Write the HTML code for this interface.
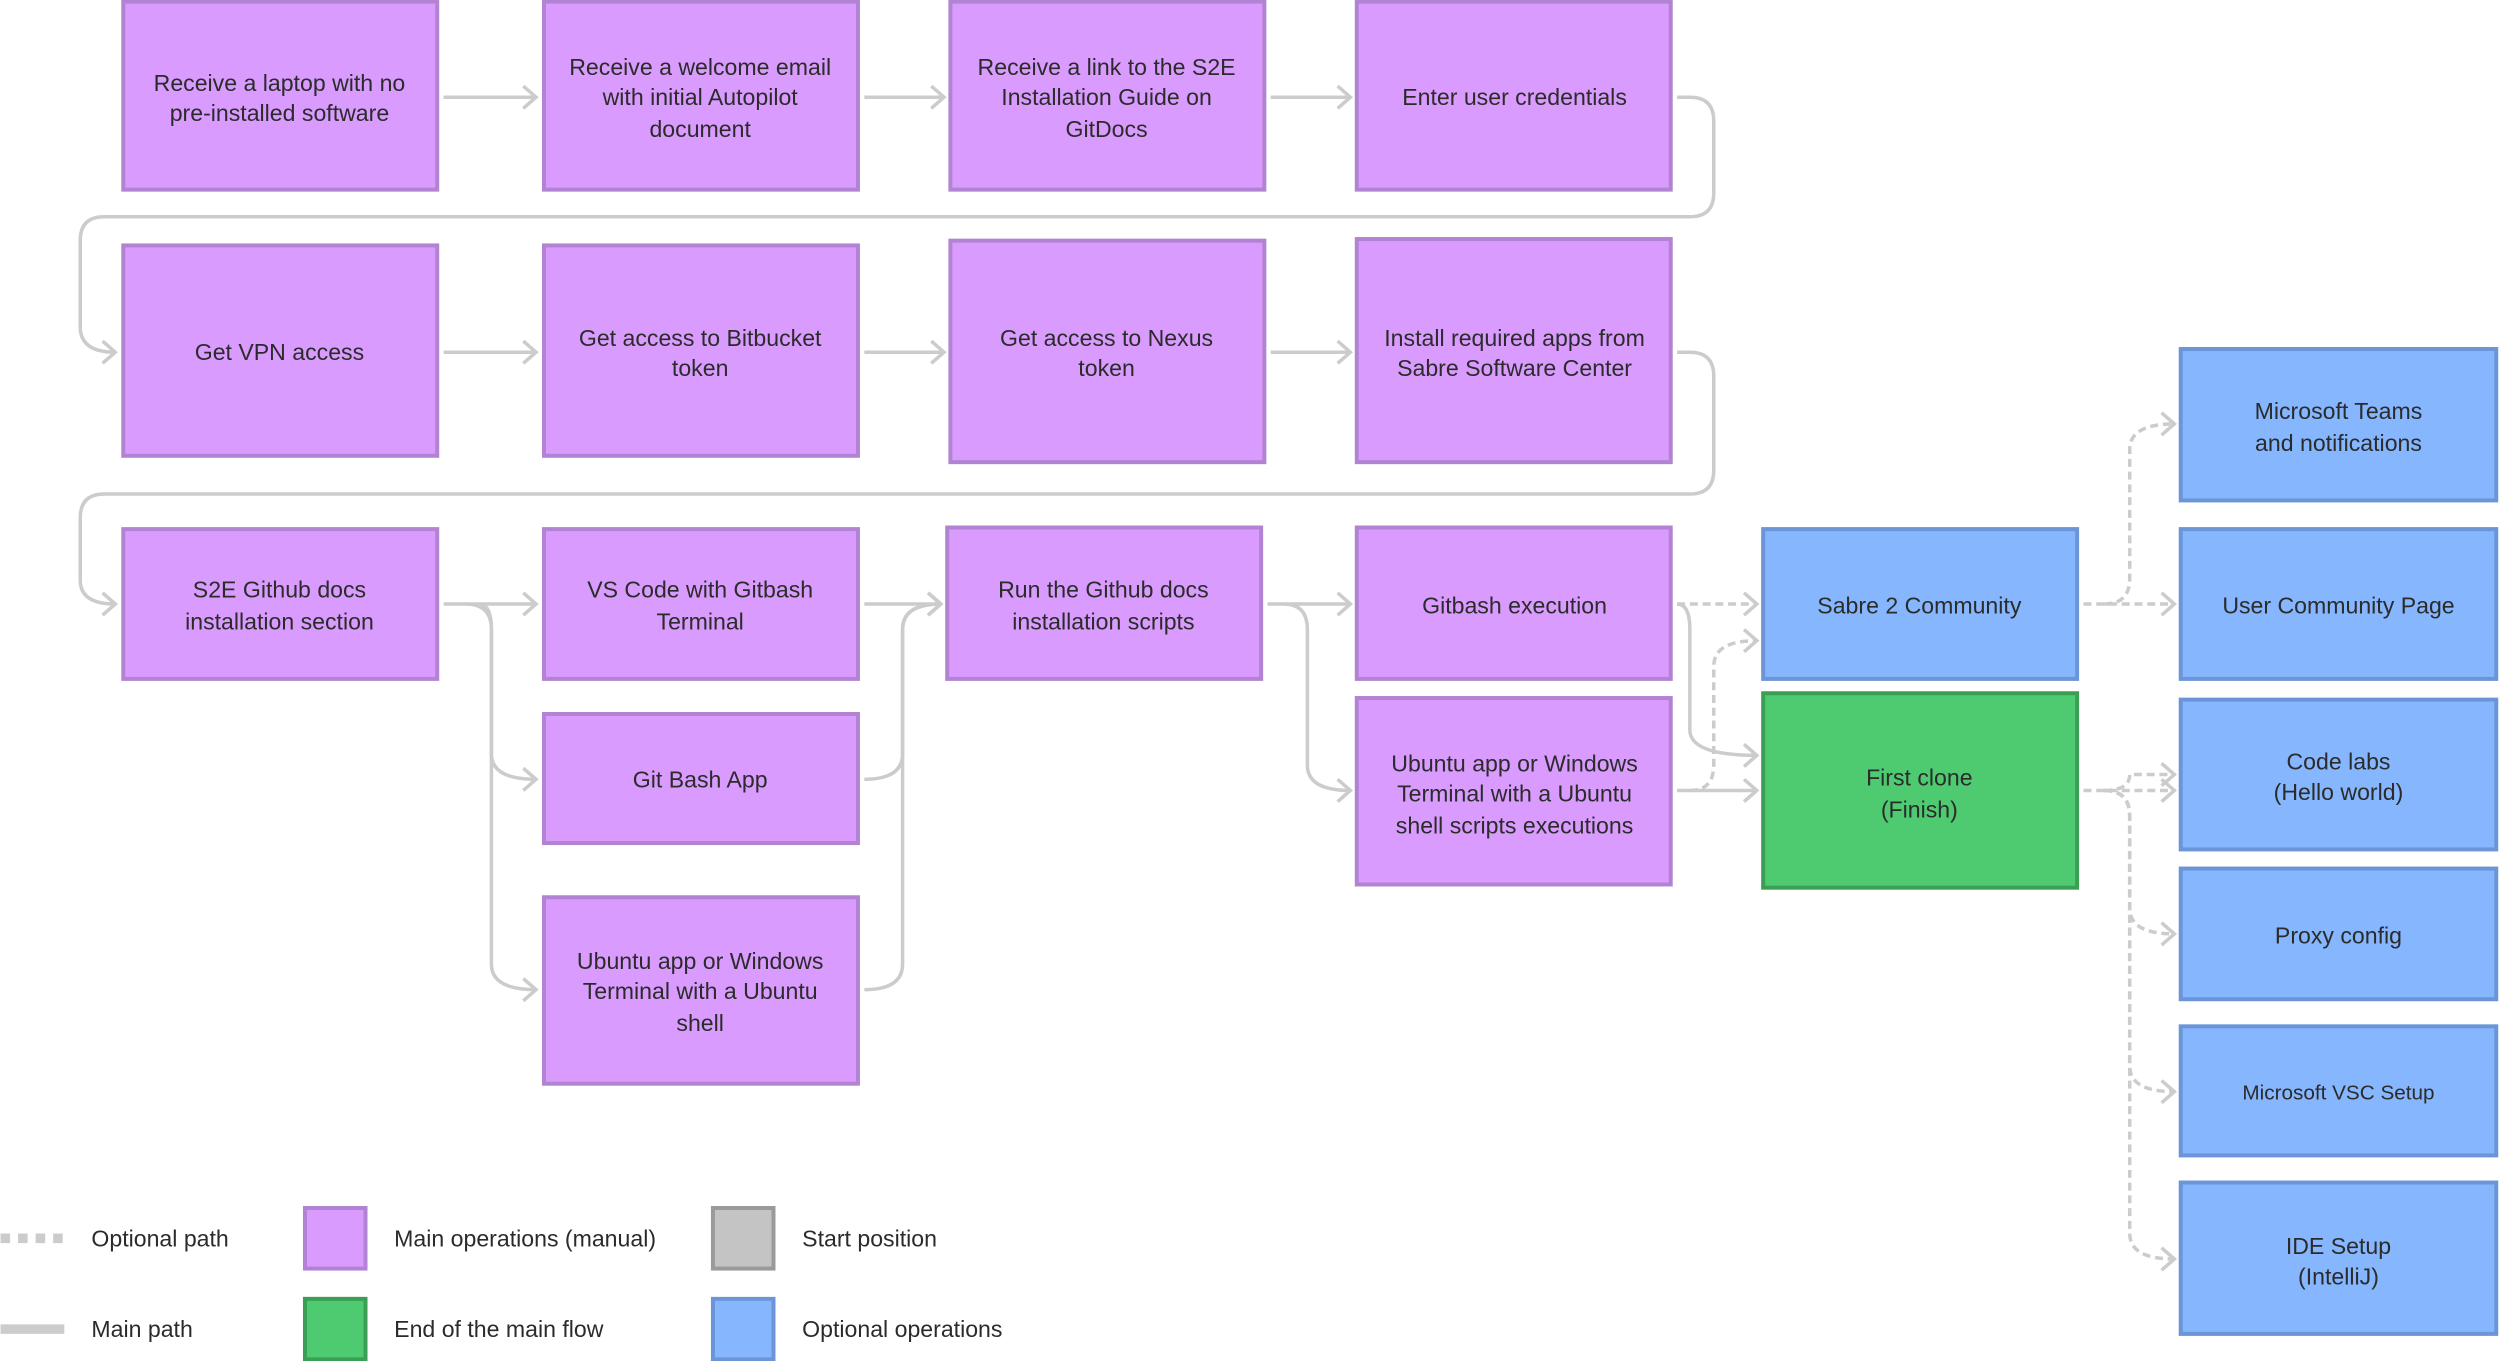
<!DOCTYPE html>
<html><head><meta charset="utf-8"><style>
html,body{margin:0;padding:0;background:#fff;}
svg{display:block;}
text{font-family:"Liberation Sans",sans-serif;font-size:14.5px;fill:#2b2b2b;text-anchor:middle;}
.p{fill:#d99bfd;stroke:#b283d2;stroke-width:2.5;}
.b{fill:#86b6fe;stroke:#6b95d6;stroke-width:2.5;}
.g{fill:#4ecb71;stroke:#3a9e55;stroke-width:2.5;}
.c{fill:none;stroke:#cccccc;stroke-width:2.2;}
.d{fill:none;stroke:#cccccc;stroke-width:2.2;stroke-dasharray:5 3;}
.l{text-anchor:start;}
</style></head><body>
<svg width="2500" height="1361" viewBox="0 0 1568 854" xmlns="http://www.w3.org/2000/svg">
<defs><marker id="a" markerWidth="12" markerHeight="16" refX="10" refY="8" orient="auto" markerUnits="userSpaceOnUse"><path d="M2,1 L10,8 L2,15" fill="none" stroke="#cccccc" stroke-width="2.2"/></marker></defs>
<!-- connectors -->
<g class="c" marker-end="url(#a)">
<path d="M278,61H336"/><path d="M542,61H592"/><path d="M797,61H847"/>
<path d="M1052,61H1060Q1075,61 1075,76V121Q1075,136 1060,136H65Q50,136 50,151V205Q50,221 72,221"/>
<path d="M278,221H336"/><path d="M542,221H592"/><path d="M797,221H847"/>
<path d="M1052,221H1060Q1075,221 1075,236V295Q1075,310 1060,310H65Q50,310 50,325V364Q50,379 72,379"/>
<path d="M278,379H336"/>
<path d="M292,379Q308,379 308,395V473Q308,489 336,489"/>
<path d="M300,379Q308,379 308,395V605Q308,621 336,621"/>
<path d="M542,379H590"/>
<path d="M542,489Q566,489 566,473V395Q566,379 590,379"/>
<path d="M542,621Q566,621 566,605V395Q566,379 590,379"/>
<path d="M795,379H847"/>
<path d="M805,379Q820,379 820,395V480Q820,496 847,496"/>
<path d="M1052,379Q1060,379 1060,395V458Q1060,474 1102,474"/>
<path d="M1052,496H1102"/>
</g>
<g class="d" marker-end="url(#a)">
<path d="M1052,379H1102"/>
<path d="M1060,496Q1075,496 1075,480V418Q1075,402 1102,402"/>
<path d="M1307,379H1364"/>
<path d="M1320,379Q1336,379 1336,363V282Q1336,266 1364,266"/>
<path d="M1307,496H1364"/>
<path d="M1320,496Q1336,496 1336,486Q1340,486 1364,486"/>
<path d="M1320,496Q1336,496 1336,512V570Q1336,586 1364,586"/>
<path d="M1320,496Q1336,496 1336,512V669Q1336,685 1364,685"/>
<path d="M1320,496Q1336,496 1336,512V774Q1336,790 1364,790"/>
</g>
<!-- boxes -->
<rect class="p" x="77" y="1" width="197" height="118"/>
<text x="175" y="57">Receive a laptop with no</text><text x="175" y="76">pre-installed software</text>
<rect class="p" x="341" y="1" width="197" height="118"/>
<text x="439" y="47">Receive a welcome email</text><text x="439" y="66">with initial Autopilot</text><text x="439" y="86">document</text>
<rect class="p" x="596" y="1" width="197" height="118"/>
<text x="694" y="47">Receive a link to the S2E</text><text x="694" y="66">Installation Guide on</text><text x="694" y="86">GitDocs</text>
<rect class="p" x="851" y="1" width="197" height="118"/>
<text x="950" y="66">Enter user credentials</text>
<rect class="p" x="77" y="154" width="197" height="132"/>
<text x="175" y="226">Get VPN access</text>
<rect class="p" x="341" y="154" width="197" height="132"/>
<text x="439" y="217">Get access to Bitbucket</text><text x="439" y="236">token</text>
<rect class="p" x="596" y="151" width="197" height="139"/>
<text x="694" y="217">Get access to Nexus</text><text x="694" y="236">token</text>
<rect class="p" x="851" y="150" width="197" height="140"/>
<text x="950" y="217">Install required apps from</text><text x="950" y="236">Sabre Software Center</text>
<rect class="p" x="77" y="332" width="197" height="94"/>
<text x="175" y="375">S2E Github docs</text><text x="175" y="395">installation section</text>
<rect class="p" x="341" y="332" width="197" height="94"/>
<text x="439" y="375">VS Code with Gitbash</text><text x="439" y="395">Terminal</text>
<rect class="p" x="594" y="331" width="197" height="95"/>
<text x="692" y="375">Run the Github docs</text><text x="692" y="395">installation scripts</text>
<rect class="p" x="851" y="331" width="197" height="95"/>
<text x="950" y="385">Gitbash execution</text>
<rect class="p" x="341" y="448" width="197" height="81"/>
<text x="439" y="494">Git Bash App</text>
<rect class="p" x="341" y="563" width="197" height="117"/>
<text x="439" y="608">Ubuntu app or Windows</text><text x="439" y="627">Terminal with a Ubuntu</text><text x="439" y="647">shell</text>
<rect class="p" x="851" y="438" width="197" height="117"/>
<text x="950" y="484">Ubuntu app or Windows</text><text x="950" y="503">Terminal with a Ubuntu</text><text x="950" y="523">shell scripts executions</text>
<rect class="b" x="1106" y="332" width="197" height="94"/>
<text x="1204" y="385">Sabre 2 Community</text>
<rect class="g" x="1106" y="435" width="197" height="122"/>
<text x="1204" y="493">First clone</text><text x="1204" y="513">(Finish)</text>
<rect class="b" x="1368" y="219" width="198" height="95"/>
<text x="1467" y="263">Microsoft Teams</text><text x="1467" y="283">and notifications</text>
<rect class="b" x="1368" y="332" width="198" height="94"/>
<text x="1467" y="385">User Community Page</text>
<rect class="b" x="1368" y="439" width="198" height="94"/>
<text x="1467" y="483">Code labs</text><text x="1467" y="502">(Hello world)</text>
<rect class="b" x="1368" y="545" width="198" height="82"/>
<text x="1467" y="592">Proxy config</text>
<rect class="b" x="1368" y="644" width="198" height="81"/>
<text x="1467" y="690" style="font-size:13px">Microsoft VSC Setup</text>
<rect class="b" x="1368" y="742" width="198" height="95"/>
<text x="1467" y="787">IDE Setup</text><text x="1467" y="806">(IntelliJ)</text>
<!-- legend -->
<path d="M0,777H40" stroke="#cccccc" stroke-width="6" stroke-dasharray="6 5" fill="none"/>
<text class="l" x="57" y="782">Optional path</text>
<path d="M0,834H40" stroke="#cccccc" stroke-width="6" fill="none"/>
<text class="l" x="57" y="839">Main path</text>
<rect class="p" x="191" y="758" width="38" height="38"/>
<text class="l" x="247" y="782">Main operations (manual)</text>
<rect class="g" x="191" y="815" width="38" height="38"/>
<text class="l" x="247" y="839">End of the main flow</text>
<rect x="447" y="758" width="38" height="38" fill="#c4c4c4" stroke="#9a9a9a" stroke-width="2.5"/>
<text class="l" x="503" y="782">Start position</text>
<rect class="b" x="447" y="815" width="38" height="38"/>
<text class="l" x="503" y="839">Optional operations</text>
</svg>
</body></html>
